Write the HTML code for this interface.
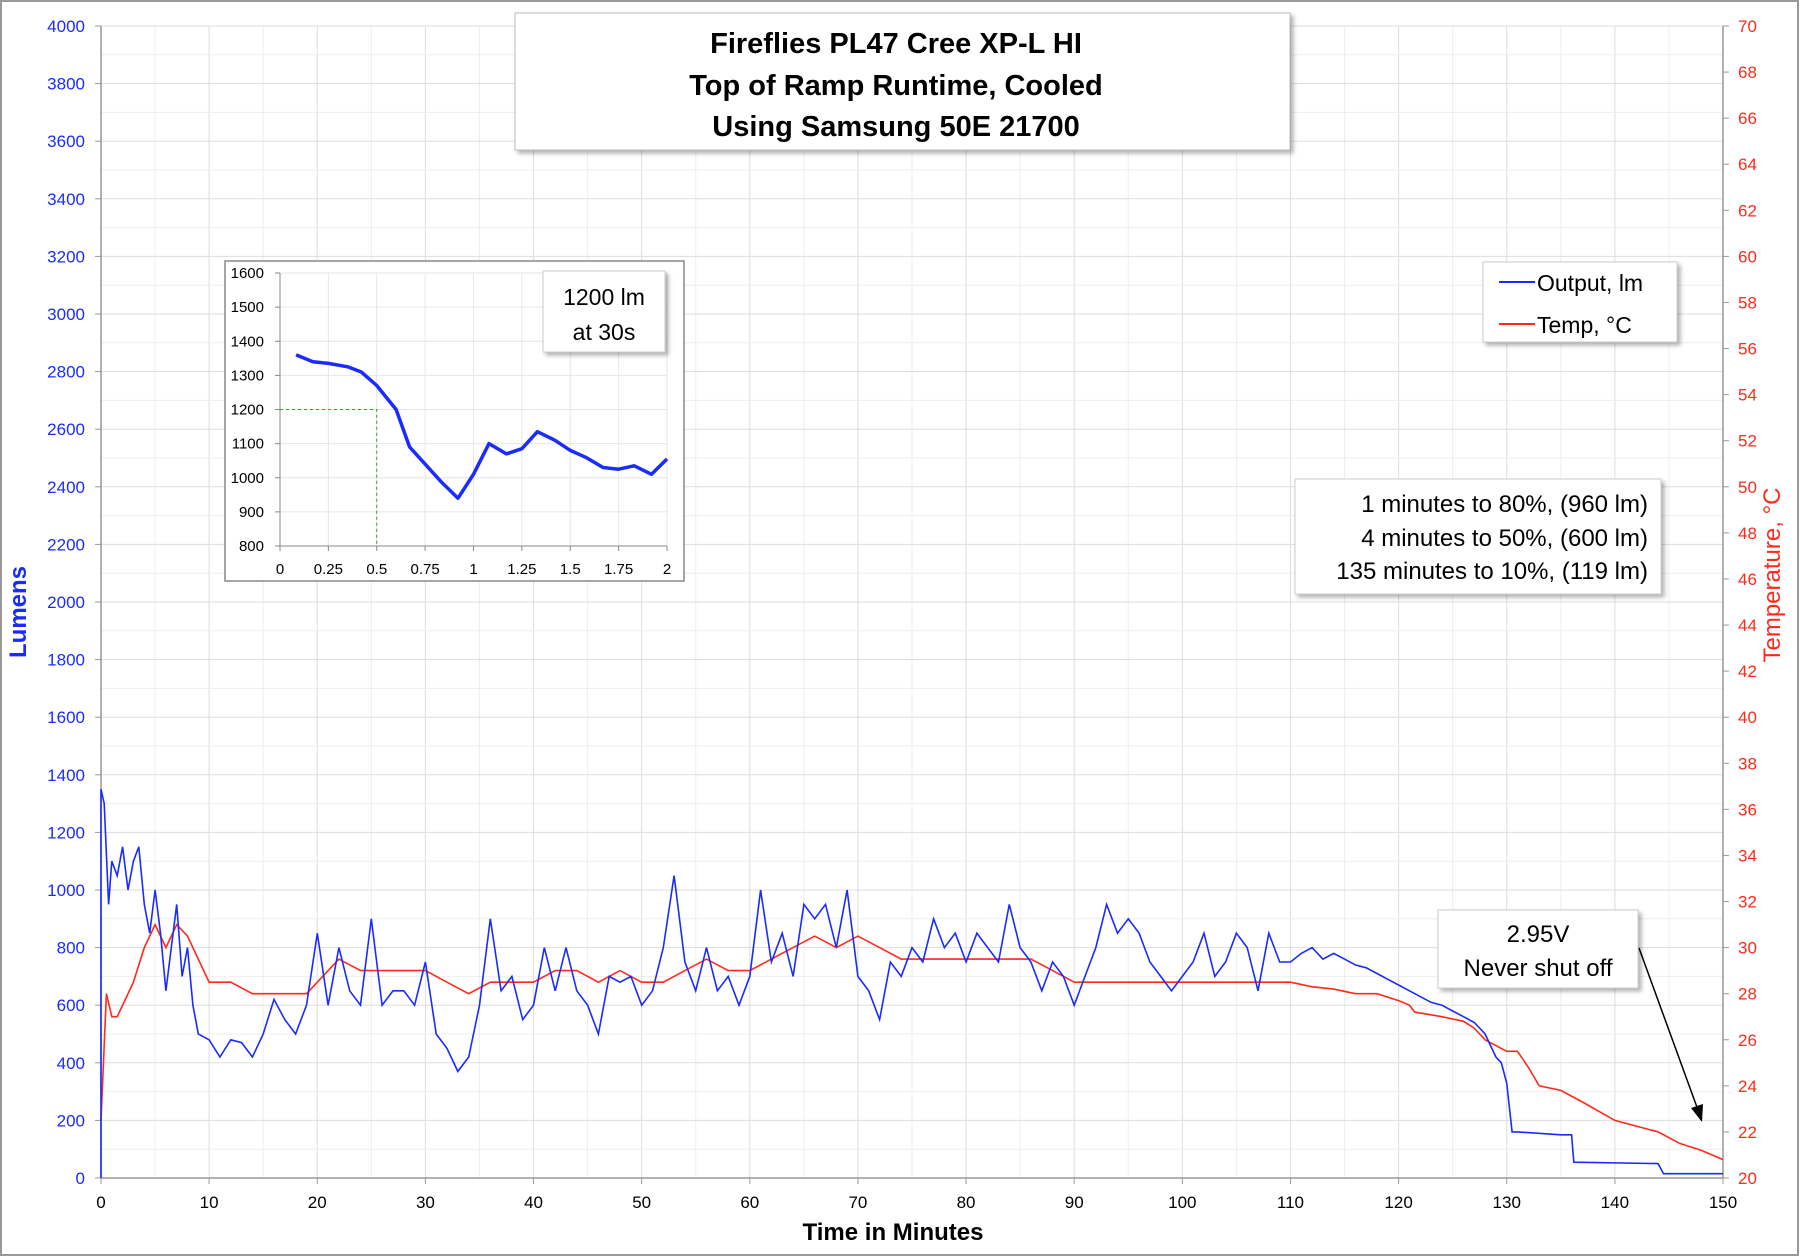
<!DOCTYPE html>
<html><head><meta charset="utf-8">
<style>
html,body{margin:0;padding:0;background:#fff;}
svg{display:block;font-family:"Liberation Sans",sans-serif;}
</style></head>
<body>
<svg id="chart" width="1800" height="1257" viewBox="0 0 1800 1257" xmlns="http://www.w3.org/2000/svg">
<defs>
<filter id="sh" x="-5%" y="-5%" width="115%" height="120%"><feDropShadow dx="3" dy="3" stdDeviation="2" flood-color="#000" flood-opacity="0.3"/></filter>
</defs>
<rect x="1" y="1" width="1797" height="1254" fill="#fff" stroke="#999" stroke-width="2"/>
<g id="grid"></g>
<g id="axes"></g>
<g id="series"></g>
<text x="26" y="612" transform="rotate(-90 26 612)" text-anchor="middle" font-size="24" font-weight="bold" fill="#1a2bff">Lumens</text>
<text x="1780" y="575" transform="rotate(-90 1780 575)" text-anchor="middle" font-size="24" fill="#ff2a1a">Temperature, °C</text>
<text x="893" y="1240" text-anchor="middle" font-size="24" font-weight="bold" fill="#000">Time in Minutes</text>
<g>
<rect x="515" y="13" width="775" height="137" fill="#fff" stroke="#bbb" filter="url(#sh)"/>
<text x="896" y="53" text-anchor="middle" font-size="29" font-weight="bold">Fireflies PL47 Cree XP-L HI</text>
<text x="896" y="95" text-anchor="middle" font-size="29" font-weight="bold">Top of Ramp Runtime, Cooled</text>
<text x="896" y="136" text-anchor="middle" font-size="29" font-weight="bold">Using Samsung 50E 21700</text>
</g>
<g>
<rect x="1483" y="262" width="194" height="80" fill="#fff" stroke="#ccc" filter="url(#sh)"/>
<line x1="1499" y1="282" x2="1535" y2="282" stroke="#1a2bff" stroke-width="2"/>
<text x="1537" y="291" font-size="23">Output, lm</text>
<line x1="1499" y1="324" x2="1535" y2="324" stroke="#ff2a1a" stroke-width="2"/>
<text x="1537" y="333" font-size="23">Temp, °C</text>
</g>
<g>
<rect x="1295" y="479" width="366" height="115" fill="#fff" stroke="#ccc" filter="url(#sh)"/>
<text x="1648" y="512" text-anchor="end" font-size="24">1 minutes to 80%, (960 lm)</text>
<text x="1648" y="546" text-anchor="end" font-size="24">4 minutes to 50%, (600 lm)</text>
<text x="1648" y="579" text-anchor="end" font-size="24">135 minutes to 10%, (119 lm)</text>
</g>
<g>
<rect x="1438" y="910" width="200" height="78" fill="#fff" stroke="#ccc" filter="url(#sh)"/>
<text x="1538" y="942" text-anchor="middle" font-size="24">2.95V</text>
<text x="1538" y="976" text-anchor="middle" font-size="24">Never shut off</text>
<line x1="1639" y1="948" x2="1698" y2="1110" stroke="#000" stroke-width="1.5"/>
<polygon points="1702,1122 1691,1108 1703,1104" fill="#000"/>
</g>
<g id="inset"></g>
</svg>
<script>
// main chart data
const timeMin = [0,0.3,0.7,1,1.5,2,2.5,3,3.5,4,4.5,5,5.5,6,7,7.5,8,8.5,9,10,11,12,13,14,15,16,17,18,19,20,21,22,23,24,25,26,27,28,29,30,31,32,33,34,35,36,37,38,39,40,41,42,43,44,45,46,47,48,49,50,51,52,53,54,55,56,57,58,59,60,61,62,63,64,65,66,67,68,69,70,71,72,73,74,75,76,77,78,79,80,81,82,83,84,85,86,87,88,89,90,91,92,93,94,95,96,97,98,99,100,101,102,103,104,105,106,107,108,109,110,111,112,113,114,115,116,117,118,119,120,121,122,123,124,125,126,127,128,129,129.5,130,130.5,131,135,136,136.2,144,144.5,150];
const lumens = [1350,1300,950,1100,1050,1150,1000,1100,1150,950,850,1000,850,650,950,700,800,600,500,480,420,480,470,420,500,620,550,500,600,850,600,800,650,600,900,600,650,650,600,750,500,450,370,420,600,900,650,700,550,600,800,650,800,650,600,500,700,680,700,600,650,800,1050,750,650,800,650,700,600,700,1000,750,850,700,950,900,950,800,1000,700,650,550,750,700,800,750,900,800,850,750,850,800,750,950,800,750,650,750,700,600,700,800,950,850,900,850,750,700,650,700,750,850,700,750,850,800,650,850,750,750,780,800,760,780,760,740,730,710,690,670,650,630,610,600,580,560,540,500,420,400,330,160,160,150,150,55,50,15,15];
const tempTime = [0,0.5,1,1.5,2,3,4,4.5,5,6,7,8,9,10,12,14,16,18,19,20,22,24,26,28,30,32,34,36,38,40,42,44,46,48,50,52,54,56,58,60,62,64,66,68,70,72,74,76,78,80,82,84,86,88,90,92,94,96,98,100,102,104,106,108,110,112,114,116,118,120,121,121.5,124,126,127,128,130,131,132,133,135,137,140,144,146,148,150];
const tempC = [22.5,28,27,27,27.5,28.5,30,30.5,31,30,31,30.5,29.5,28.5,28.5,28,28,28,28,28.5,29.5,29,29,29,29,28.5,28,28.5,28.5,28.5,29,29,28.5,29,28.5,28.5,29,29.5,29,29,29.5,30,30.5,30,30.5,30,29.5,29.5,29.5,29.5,29.5,29.5,29.5,29,28.5,28.5,28.5,28.5,28.5,28.5,28.5,28.5,28.5,28.5,28.5,28.3,28.2,28,28,27.7,27.5,27.2,27,26.8,26.5,26,25.5,25.5,24.8,24,23.8,23.3,22.5,22,21.5,21.2,20.8];
const xTicks = [0,10,20,30,40,50,60,70,80,90,100,110,120,130,140,150];
const lumTicks = [0,200,400,600,800,1000,1200,1400,1600,1800,2000,2200,2400,2600,2800,3000,3200,3400,3600,3800,4000];
const tempTicks = [20,22,24,26,28,30,32,34,36,38,40,42,44,46,48,50,52,54,56,58,60,62,64,66,68,70];
// inset data
const insetTime = [0.083,0.17,0.25,0.35,0.42,0.5,0.6,0.67,0.75,0.83,0.92,1,1.08,1.17,1.25,1.33,1.42,1.5,1.58,1.67,1.75,1.83,1.92,2];
const insetLumens = [1360,1340,1335,1325,1310,1270,1200,1090,1040,990,940,1010,1100,1070,1085,1135,1110,1080,1060,1030,1025,1035,1010,1055];
const insetXTicks = [0,0.25,0.5,0.75,1,1.25,1.5,1.75,2];
const insetYTicks = [800,900,1000,1100,1200,1300,1400,1500,1600];

const NS="http://www.w3.org/2000/svg";
function mk(tag,attrs,parent,text){const e=document.createElementNS(NS,tag);for(const k in attrs)e.setAttribute(k,attrs[k]);if(text!==undefined)e.textContent=text;parent.appendChild(e);return e;}
const X0=101,X1=1723,YT=26,YB=1178;
const xs=t=>X0+(t/150)*(X1-X0);
const yl=v=>YB-(v/4000)*(YB-YT);
const yt=v=>YB-((v-20)/50)*(YB-YT);
const grid=document.getElementById('grid'),axes=document.getElementById('axes'),series=document.getElementById('series');
for(let t=5;t<150;t+=5){const l=mk('line',{x1:xs(t),x2:xs(t),y1:YT,y2:YB,stroke:t%10?'#eee':'#ddd','stroke-width':1},grid);

}
for(let v=100;v<=4000;v+=100){const l=mk('line',{x1:X0,x2:X1,y1:yl(v),y2:yl(v),stroke:v%200?'#eee':'#ddd','stroke-width':1},grid);

}
mk('line',{x1:X0,x2:X0,y1:YT,y2:YB,stroke:'#999','stroke-width':1.5},axes);
mk('line',{x1:X1,x2:X1,y1:YT,y2:YB,stroke:'#999','stroke-width':1.5},axes);
mk('line',{x1:X0,x2:X1,y1:YB,y2:YB,stroke:'#999','stroke-width':1.5},axes);
xTicks.forEach(t=>{mk('line',{x1:xs(t),x2:xs(t),y1:YB,y2:YB+6,stroke:'#999'},axes);
const e=mk('text',{x:xs(t),y:YB+30,'text-anchor':'middle','font-size':17,fill:'#000'},axes,String(t));

});
lumTicks.forEach(v=>{mk('line',{x1:X0-6,x2:X0,y1:yl(v),y2:yl(v),stroke:'#999'},axes);
const e=mk('text',{x:X0-16,y:yl(v)+6,'text-anchor':'end','font-size':17,fill:'#1a2bff'},axes,String(v));

});
tempTicks.forEach(v=>{mk('line',{x1:X1,x2:X1+6,y1:yt(v),y2:yt(v),stroke:'#999'},axes);
const e=mk('text',{x:X1+15,y:yt(v)+6,'font-size':17,fill:'#ff2a1a'},axes,String(v));

});
function stepPath(ts,vs,fy){let d='';ts.forEach((t,i)=>{d+=(i?'L':'M')+xs(t).toFixed(1)+' '+fy(vs[i]).toFixed(1)+' ';});return d;}
const tp=mk('path',{d:stepPath(tempTime,tempC,yt),fill:'none',stroke:'#ff2a1a','stroke-width':1.6},series);


let d='M'+xs(0)+' '+yl(0)+' '+stepPath(timeMin,lumens,yl).slice(1).replace(/^/,'L');
const lp=mk('path',{d:d,fill:'none',stroke:'#1a2bff','stroke-width':1.6},series);


// inset
const ins=document.getElementById('inset');
const IX0=280,IX1=667,IYT=273,IYB=546;
const ix=t=>IX0+(t/2)*(IX1-IX0);
const iy=v=>IYB-((v-800)/800)*(IYB-IYT);
mk('rect',{x:225,y:261,width:459,height:320,fill:'#fff',stroke:'#888','stroke-width':1.5},ins);
insetXTicks.forEach(t=>{if(t>0)mk('line',{x1:ix(t),x2:ix(t),y1:IYT,y2:IYB,stroke:'#e6e6e6'},ins);});
insetYTicks.forEach(v=>{if(v>800)mk('line',{x1:IX0,x2:IX1,y1:iy(v),y2:iy(v),stroke:'#e6e6e6'},ins);});
mk('line',{x1:IX0,x2:IX0,y1:IYT,y2:IYB,stroke:'#888'},ins);
mk('line',{x1:IX0,x2:IX1,y1:IYB,y2:IYB,stroke:'#888'},ins);
insetXTicks.forEach(t=>{mk('line',{x1:ix(t),x2:ix(t),y1:IYB,y2:IYB+5,stroke:'#888'},ins);
const e=mk('text',{x:ix(t),y:IYB+28,'text-anchor':'middle','font-size':15},ins,String(t));

});
insetYTicks.forEach(v=>{mk('line',{x1:IX0-5,x2:IX0,y1:iy(v),y2:iy(v),stroke:'#888'},ins);
const e=mk('text',{x:IX0-16,y:iy(v)+5,'text-anchor':'end','font-size':15},ins,String(v));

});
mk('path',{d:'M'+IX0+' '+iy(1200)+' L'+ix(0.5)+' '+iy(1200)+' L'+ix(0.5)+' '+IYB,fill:'none',stroke:'#2a2','stroke-width':1,'stroke-dasharray':'3,3'},ins);
let idd='';insetTime.forEach((t,i)=>{idd+=(i?'L':'M')+ix(t).toFixed(1)+' '+iy(insetLumens[i]).toFixed(1)+' ';});
const il=mk('path',{d:idd,fill:'none',stroke:'#1a2bff','stroke-width':3.5,'stroke-linejoin':'round'},ins);


mk('rect',{x:543,y:271,width:122,height:81,fill:'#fff',stroke:'#ccc',filter:'url(#sh)'},ins);
mk('text',{x:604,y:305,'text-anchor':'middle','font-size':23},ins,'1200 lm');
mk('text',{x:604,y:340,'text-anchor':'middle','font-size':23},ins,'at 30s');
</script>
</body></html>
